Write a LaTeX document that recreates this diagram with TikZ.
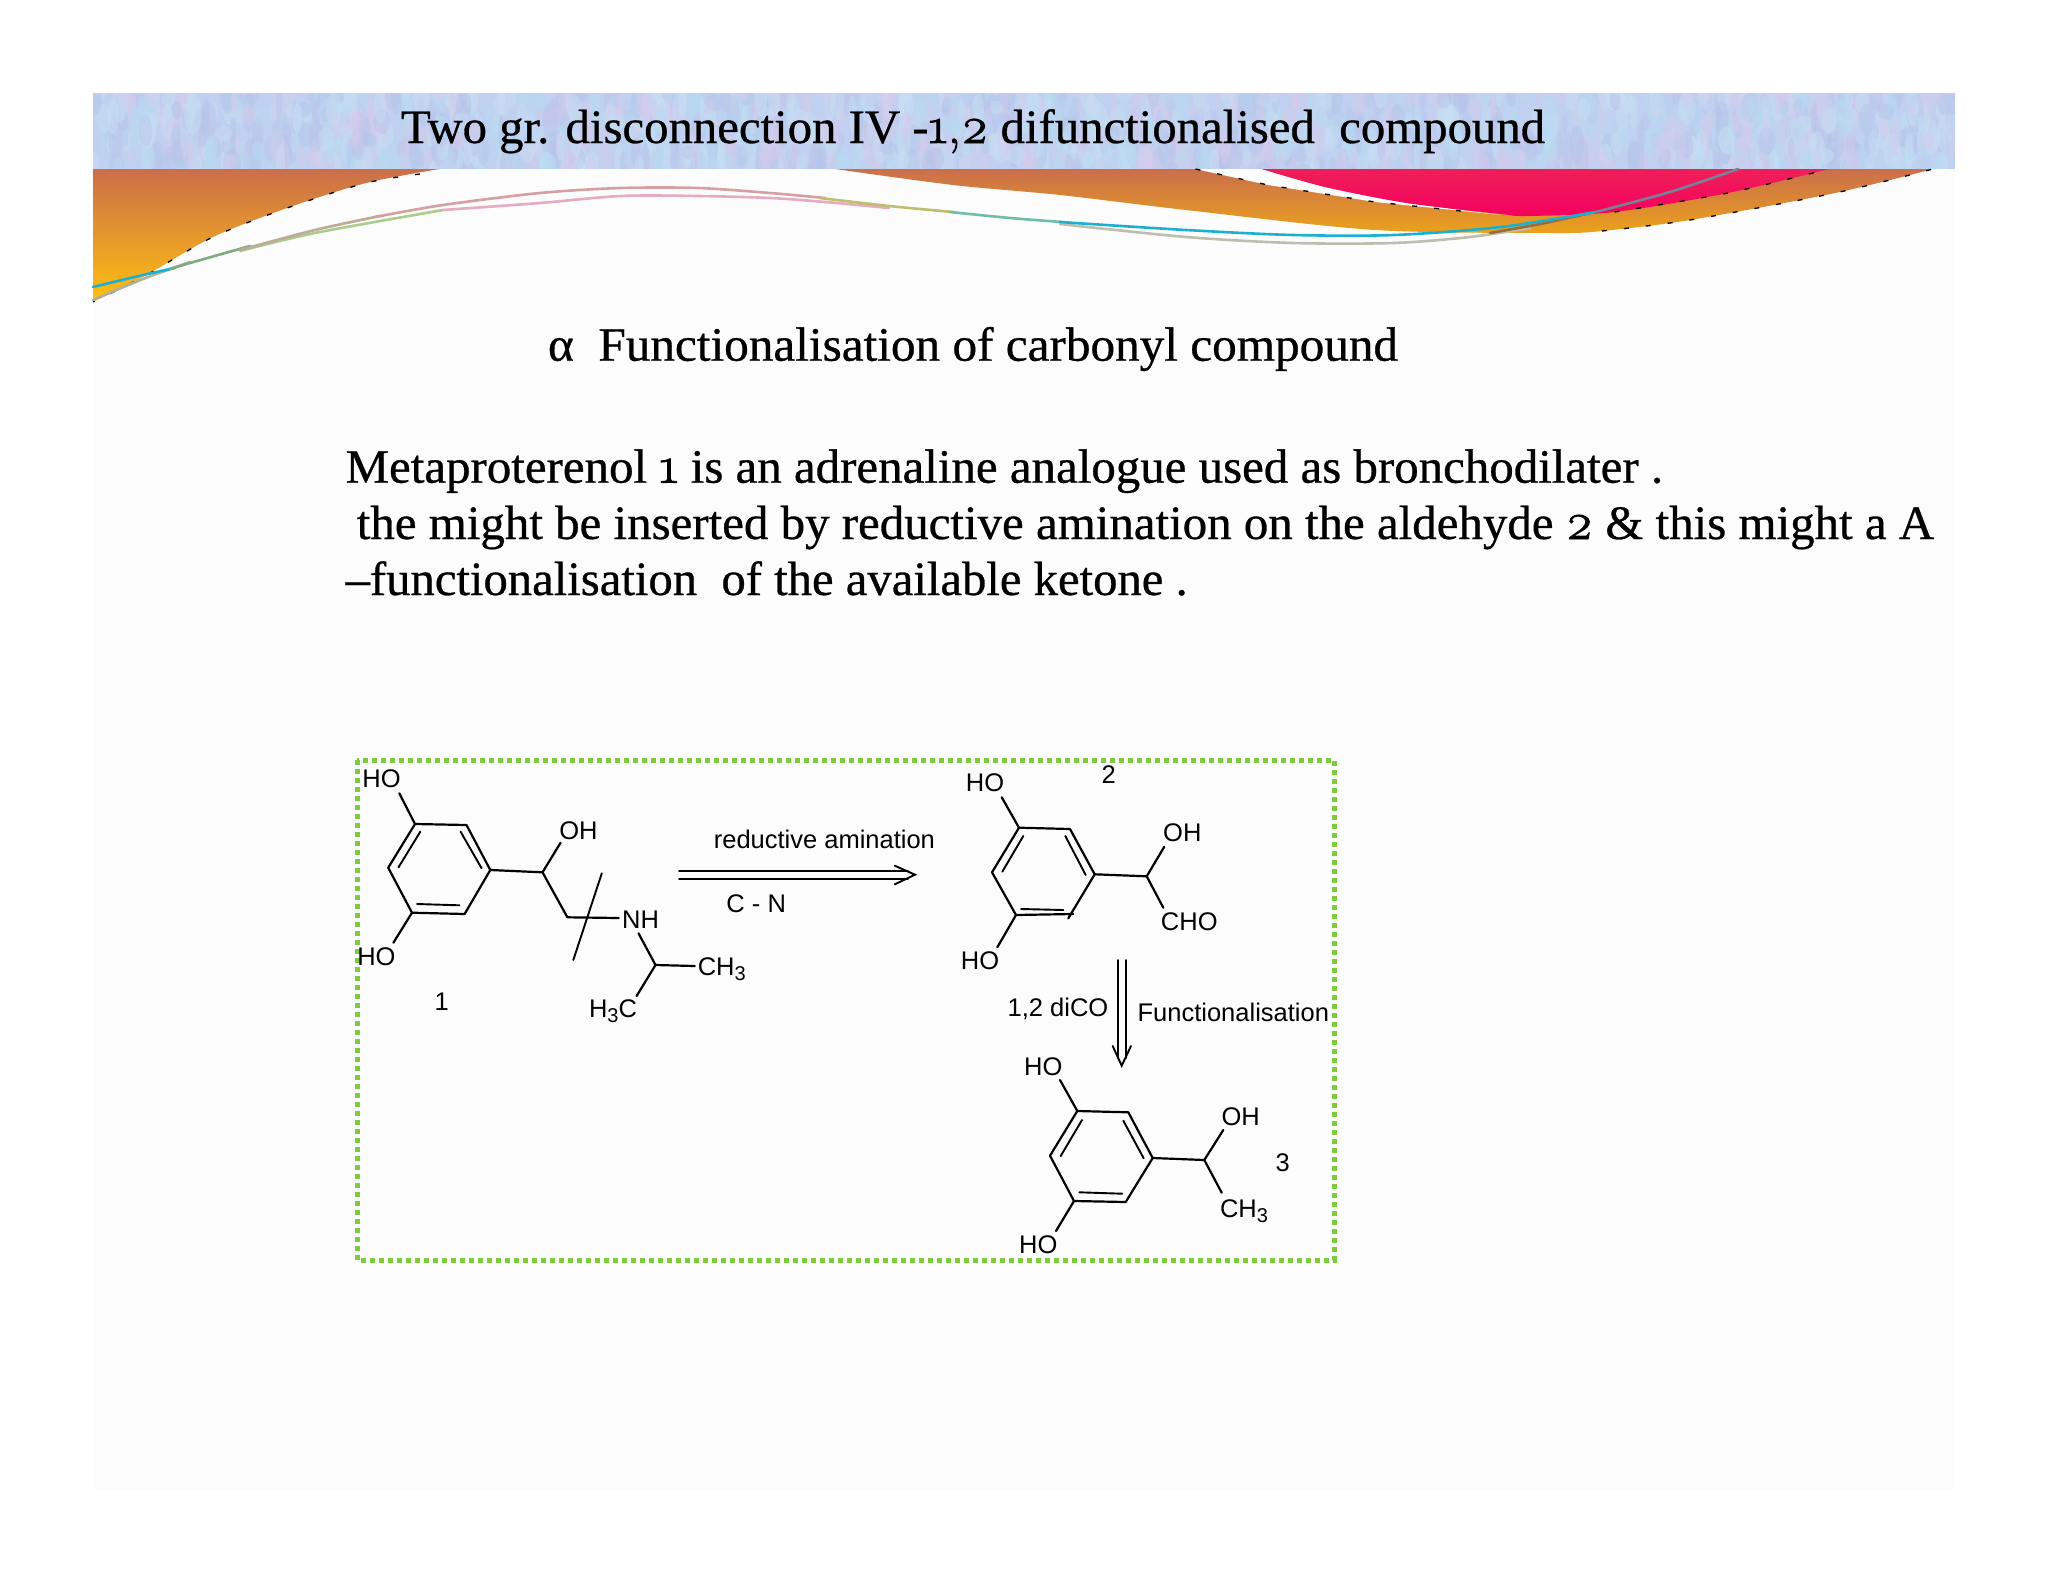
\documentclass[tikz,border=0pt]{standalone}
\usepackage{fontspec}
\usepackage{graphicx}
\setmainfont[FakeBold=0.6]{Liberation Serif}
\setsansfont{Liberation Sans}
\newfontfamily\onumfont[Numbers=OldStyle,FakeBold=1.6,Scale=1.08]{Latin Modern Roman}
\newcommand{\oldnum}[1]{{\onumfont #1}}
\newcommand{\fitline}[2]{\resizebox{#1pt}{\height}{\fontsize{48}{48}\selectfont #2}}
\newcommand{\lowthree}{\raisebox{-5pt}{\fontsize{20}{20}\selectfont 3}}
\definecolor{slidebg}{HTML}{FCFCFD}
\definecolor{dotgreen}{HTML}{7DCB3F}
\tikzset{
  serifline/.style={anchor=base west,inner sep=0pt,outer sep=0pt,text=black},
  atomlabel/.style={font=\sffamily\fontsize{25.5}{25.5}\selectfont,inner sep=0pt,outer sep=0pt,text=black},
  bond/.style={line width=2.2pt,line cap=round,line join=round,black},
  thinbond/.style={line width=1.9pt,line cap=round,black},
  edgedash/.style={line width=1.3pt,black,dash pattern=on 5pt off 17pt},
  ribbon/.style={line width=2.6pt,line cap=round,line join=round},
}
\begin{document}
\begin{tikzpicture}[x=1pt,y=-1pt]
\useasboundingbox (0,0) rectangle (2048,1582);
\fill[white] (0,0) rectangle (2048,1582);
\fill[slidebg] (93,93) rectangle (1955,1490);
% textured title band
\begin{scope}
\clip (93,93) rectangle (1955,168.5);
\fill[color={rgb,255:red,192;green,208;blue,240}] (93,93) rectangle (1955,168.5);
\pgfmathsetseed{11}
\foreach \k in {1,...,1500}{
  \pgfmathsetmacro{\px}{93+1862*rnd}
  \pgfmathsetmacro{\py}{90+82*rnd}
  \pgfmathsetmacro{\pr}{3+6*rnd}
  \pgfmathsetmacro{\ps}{7+14*rnd}
  \pgfmathtruncatemacro{\pc}{int(4*rnd)}
  \ifcase\pc
    \definecolor{blob}{HTML}{B8DAF2}\or
    \definecolor{blob}{HTML}{D6CBEC}\or
    \definecolor{blob}{HTML}{B6C4EA}\else
    \definecolor{blob}{HTML}{C8E0F4}\fi
  \fill[blob,opacity=.45] (\px,\py) ellipse [x radius=\pr,y radius=\ps];
}
\end{scope}
% left ribbon
\shade[top color={rgb,255:red,203;green,110;blue,74},bottom color={rgb,255:red,255;green,192;blue,16}]
  (93,169) -- plot[smooth] coordinates {(439.5,169)(366,183)(290,207)(213,237)(143,277)(93,302)} -- cycle;
\draw[edgedash] plot[smooth] coordinates {(420,174)(366,183)(290,207)(213,237)(143,277)(93,302)};
% right ribbon
\shade[top color={rgb,255:red,203;green,110;blue,76},bottom color={rgb,255:red,234;green,162;blue,28}]
  (835,169) -- plot[smooth] coordinates {(835,169)(953,185)(1060,195)(1186,210)(1375,230)(1551,233)(1602,231)(1690,220)(1835,193)(1933,169)} -- cycle;
\draw[edgedash] plot[smooth] coordinates {(1602,231)(1690,220)(1835,193)(1933,169)};
\fill[slidebg] (1195.5,169) -- (1268,185) -- (1375,202) -- (1501,215) -- (1406.6,203) -- (1325,187) -- (1261.6,169) -- cycle;
\draw[edgedash] (1195.5,169) -- (1268,185) -- (1375,202) -- (1470,212);
\shade[top color={rgb,255:red,238;green,32;blue,88},bottom color={rgb,255:red,246;green,0;blue,96}]
  (1261.6,169) -- plot[smooth] coordinates {(1261.6,169)(1325,187)(1406.6,203)(1501,214)(1526,216)(1614.5,212)(1728,193)(1829,169)} -- cycle;
\draw[edgedash] plot[smooth] coordinates {(1614.5,212)(1728,193)(1829,169)};
% ribbon lines
\draw[ribbon,color={rgb,255:red,176;green,176;blue,160}] plot[smooth] coordinates {(93,300)(143,279)(190,262)};
\draw[ribbon,color={rgb,255:red,27;green,175;blue,208}] plot[smooth] coordinates {(93,287)(143,275)(175,268)};
\draw[ribbon,color={rgb,255:red,130;green,170;blue,130}] plot[smooth] coordinates {(170,269)(190,263)(250,246)};
\draw[ribbon,color={rgb,255:red,170;green,205;blue,140}] plot[smooth] coordinates {(240,251)(315,233)(443,210)};
\draw[ribbon,color={rgb,255:red,190;green,170;blue,150}] plot[smooth] coordinates {(240,250)(315,230)(380,216)};
\draw[ribbon,color={rgb,255:red,214;green,160;blue,160}] plot[smooth] coordinates {(375,217)(443,205)(540,193)(621,188)(698,188)(770,193)(825,198)};
\draw[ribbon,color={rgb,255:red,228;green,172;blue,190}] plot[smooth] coordinates {(443,210)(540,203)(621,196)(698,196)(770,198)(825,202)(889,208)};
\draw[ribbon,color={rgb,255:red,190;green,190;blue,110}] plot[smooth] coordinates {(820,198)(889,206)(953,212)};
\draw[ribbon,color={rgb,255:red,110;green,190;blue,170}] plot[smooth] coordinates {(950,212)(1010,218)(1062,222)};
\draw[ribbon,color={rgb,255:red,190;green,190;blue,175}] plot[smooth] coordinates {(1060,224)(1186,237)(1293,243)(1394,243)(1470,237)(1530,228)};
\draw[ribbon,color={rgb,255:red,150;green,110;blue,60}] plot[smooth] coordinates {(1490,233)(1540,224)(1595,212)};
\draw[ribbon,color={rgb,255:red,27;green,175;blue,208}] plot[smooth] coordinates {(1060,222)(1186,230)(1293,235)(1394,235)(1501,227)(1595.6,212)};
\draw[ribbon,color={rgb,255:red,120;green,130;blue,150}] plot[smooth] coordinates {(1595.6,212)(1670,192)(1738,169)};
% texts
\node[serifline] (title) at (401,143) {\fitline{1144}{Two gr. disconnection IV -\oldnum{1,2} difunctionalised\ \ compound}};
\node[serifline] (subtitle) at (548,360.7) {\fitline{850}{α\ \ Functionalisation of carbonyl compound}};
\node[serifline] (lineA) at (345.6,482.7) {\fitline{1317.4}{Metaproterenol \oldnum{1} is an adrenaline analogue used as bronchodilater .}};
\node[serifline] (lineB) at (356.8,539) {\fitline{1577.2}{the might be inserted by reductive amination on the aldehyde \oldnum{2} \& this might a A}};
\node[serifline] (lineC) at (345.6,595) {\fitline{842}{–functionalisation\ \ of the available ketone .}};
% frame
\draw[dotgreen,line width=5pt,dash pattern=on 5pt off 4pt] (357,760) rectangle (1334,1260);
% molecule 1
\coordinate (a1) at (415,824);
\coordinate (a2) at (466.5,825);
\coordinate (a3) at (490.3,870);
\coordinate (a4) at (464.6,914);
\coordinate (a5) at (412,912.7);
\coordinate (a6) at (388.2,867.7);
\coordinate (a7) at (420.3,831.7);
\coordinate (a8) at (398.5,867.3);
\coordinate (a9) at (460.6,831.7);
\coordinate (a10) at (481.6,868.3);
\coordinate (a11) at (417.1,904);
\coordinate (a12) at (459.4,905.3);
\coordinate (a13) at (399.3,793.3);
\coordinate (a14) at (393.4,942.7);
\coordinate (a15) at (542.5,872.3);
\coordinate (a16) at (567.4,917.3);
\coordinate (a17) at (618.8,918);
\coordinate (a18) at (560.6,842.7);
\coordinate (a19) at (601.8,873.3);
\coordinate (a20) at (573.3,960);
\coordinate (a21) at (638.5,933.3);
\coordinate (a22) at (655.5,965);
\coordinate (a23) at (694.7,966);
\coordinate (a24) at (636.6,996);
\draw[bond] (a1) -- (a2) -- (a3) -- (a4) -- (a5) -- (a6) -- cycle;
\draw[thinbond] (a7) -- (a8) (a9) -- (a10) (a11) -- (a12);
\draw[bond] (a1) -- (a13) (a5) -- (a14) (a3) -- (a15) -- (a16) -- (a17) (a15) -- (a18) (a21) -- (a22) -- (a23) (a22) -- (a24);
\draw[thinbond] (a19) -- (a20);
\node[atomlabel] (ho1) at (381.5,778.3) {HO};
\node[atomlabel] (ho2) at (376.4,956.7) {HO};
\node[atomlabel] (oh1) at (578.4,830.3) {OH};
\node[atomlabel] (nh1) at (640.5,919.3) {NH};
\node[atomlabel,anchor=base west] (me1) at (697.8,975.7) {CH\lowthree};
\node[atomlabel,anchor=base east] (me2) at (637,1017) {H\lowthree C};
\node[atomlabel] (n1) at (441.6,1002) {1};
\node[atomlabel,anchor=base] (ra) at (824.4,848.3) {reductive amination};
\node[atomlabel] (cn) at (756.2,904) {C - N};
% retro arrow 1
\coordinate (r1) at (679,870.7);
\coordinate (r2) at (908,870.7);
\coordinate (r3) at (679,879);
\coordinate (r4) at (908,879);
\coordinate (r5) at (894.8,865.7);
\coordinate (r6) at (915,874.7);
\coordinate (r7) at (894.8,884.3);
\draw[thinbond] (r1) -- (r2) (r3) -- (r4);
\draw[thinbond,line join=miter] (r5) -- (r6) -- (r7);
% molecule 2
\coordinate (b1) at (1019,827.7);
\coordinate (b2) at (1070,829);
\coordinate (b3) at (1094.7,874.3);
\coordinate (b4) at (1073.3,914);
\coordinate (b4x) at (1068.3,918.3);
\coordinate (b5) at (1016,915);
\coordinate (b6) at (992,872.3);
\coordinate (b7) at (1023.3,836);
\coordinate (b8) at (1002.3,871.7);
\coordinate (b9) at (1065.3,836);
\coordinate (b10) at (1085.7,875);
\coordinate (b11) at (1021,909);
\coordinate (b12) at (1063.3,910);
\coordinate (b13) at (1001.7,797.3);
\coordinate (b14) at (997.3,947.3);
\coordinate (b15) at (1146.7,876.3);
\coordinate (b16) at (1164.3,846.7);
\coordinate (b17) at (1163.3,907.7);
\draw[bond] (b1) -- (b2) -- (b3) -- (b4x) (b4) -- (b5) -- (b6) -- (b1);
\draw[thinbond] (b7) -- (b8) (b9) -- (b10) (b11) -- (b12);
\draw[bond] (b1) -- (b13) (b5) -- (b14) (b3) -- (b15) -- (b16) (b15) -- (b17);
\node[atomlabel] (ho3) at (985,782.7) {HO};
\node[atomlabel] (ho4) at (980,960.7) {HO};
\node[atomlabel] (oh2) at (1182.3,832.3) {OH};
\node[atomlabel] (cho) at (1189.3,921.7) {CHO};
\node[atomlabel] (n2) at (1108.7,774.3) {2};
\node[atomlabel] (dico) at (1058,1009) {1,2 diCO};
\node[atomlabel] (func) at (1233.3,1012.3) {Functionalisation};
% retro arrow 2
\coordinate (s1) at (1118.3,960);
\coordinate (s2) at (1118.3,1058);
\coordinate (s3) at (1126,960);
\coordinate (s4) at (1126,1058);
\coordinate (s5) at (1112.7,1046);
\coordinate (s6) at (1121.7,1065.7);
\coordinate (s7) at (1131,1046);
\draw[thinbond] (s1) -- (s2) (s3) -- (s4);
\draw[thinbond,line join=miter] (s5) -- (s6) -- (s7);
% molecule 3
\coordinate (c1) at (1077.3,1111);
\coordinate (c2) at (1128.3,1112.3);
\coordinate (c3) at (1152.7,1158);
\coordinate (c4) at (1125.7,1202);
\coordinate (c5) at (1074,1201);
\coordinate (c6) at (1050,1155.7);
\coordinate (c7) at (1082,1120);
\coordinate (c8) at (1060.7,1156);
\coordinate (c9) at (1123.3,1120.7);
\coordinate (c10) at (1143.7,1158.3);
\coordinate (c11) at (1079.3,1192.3);
\coordinate (c12) at (1122.3,1193.7);
\coordinate (c13) at (1060,1080);
\coordinate (c14) at (1056,1231);
\coordinate (c15) at (1204.3,1160);
\coordinate (c16) at (1223.3,1130);
\coordinate (c17) at (1221.7,1192.7);
\draw[bond] (c1) -- (c2) -- (c3) -- (c4) -- (c5) -- (c6) -- cycle;
\draw[thinbond] (c7) -- (c8) (c9) -- (c10) (c11) -- (c12);
\draw[bond] (c1) -- (c13) (c5) -- (c14) (c3) -- (c15) -- (c16) (c15) -- (c17);
\node[atomlabel] (ho5) at (1043.3,1067) {HO};
\node[atomlabel] (ho6) at (1038.3,1245) {HO};
\node[atomlabel] (oh3) at (1240.7,1117) {OH};
\node[atomlabel,anchor=base west] (me3) at (1220,1217) {CH\lowthree};
\node[atomlabel] (n3) at (1282.7,1163) {3};
\end{tikzpicture}
\end{document}
